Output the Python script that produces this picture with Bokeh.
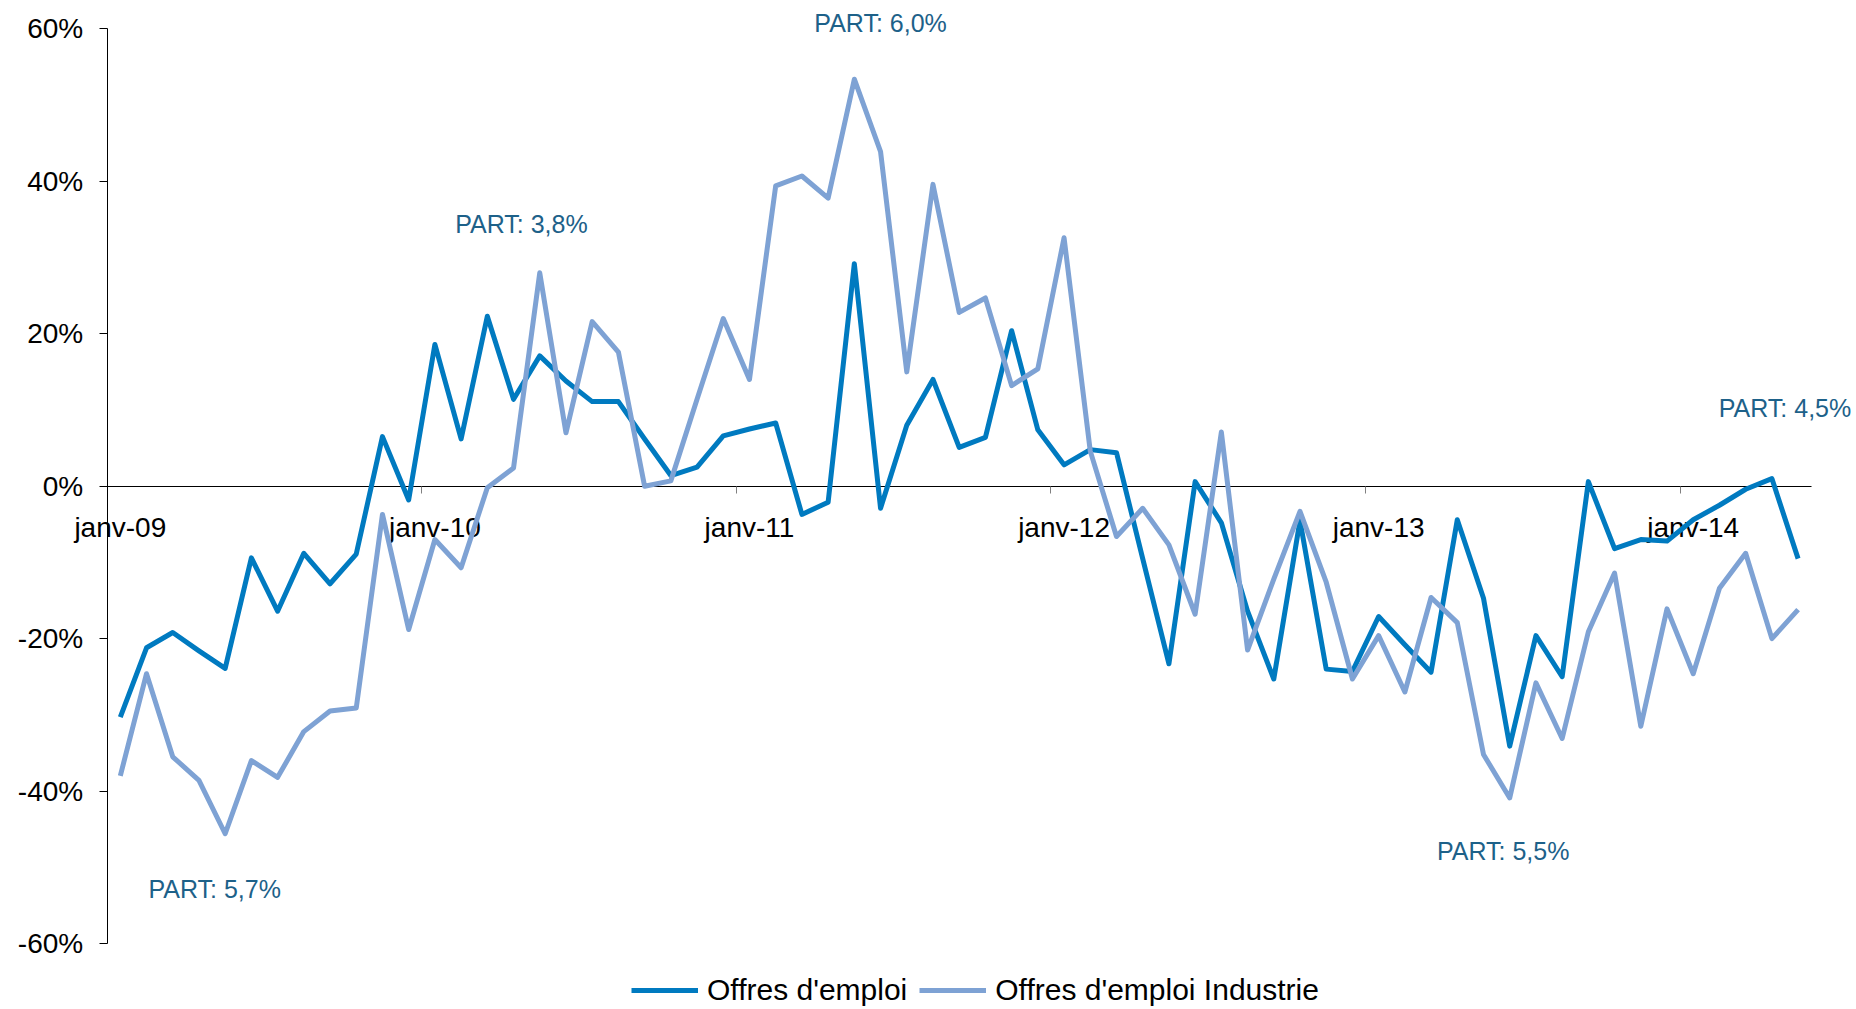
from bokeh.plotting import figure
from bokeh.models import (Range1d, LinearAxis, FixedTicker, PrintfTickFormatter,
                          ColumnDataSource, LabelSet, Legend, LegendItem)
from bokeh.core.properties import value
from bokeh.embed import file_html
from bokeh.resources import INLINE

# ---------------- data ----------------
MOIS = ["janv", "févr", "mars", "avr", "mai", "juin",
        "juil", "août", "sept", "oct", "nov", "déc"]
months = [f"{m}-{y:02d}" for y in range(9, 15) for m in MOIS][:65]

offres = [-30.3, -21.2, -19.2, -21.6, -23.9, -9.4, -16.4, -8.8, -12.8, -8.9, 6.5, -1.8,
          18.6, 6.2, 22.3, 11.4, 17.1, 13.8, 11.1, 11.1, 6.2, 1.4, 2.5, 6.6,
          7.5, 8.3, -3.7, -2.1, 29.2, -2.9, 8.0, 14.0, 5.1, 6.4, 20.4, 7.4,
          2.8, 4.8, 4.4, -9.5, -23.3, 0.6, -4.8, -16.4, -25.3, -4.5, -24.0, -24.3,
          -17.1, -20.8, -24.4, -4.4, -14.7, -34.1, -19.6, -25.0, 0.6, -8.2, -7.0, -7.2,
          -4.4, -2.5, -0.4, 1.0, -9.5]

industrie = [-38.0, -24.6, -35.5, -38.6, -45.6, -36.0, -38.2, -32.2, -29.5, -29.1, -3.7, -18.8,
             -7.0, -10.7, -0.2, 2.4, 28.0, 7.0, 21.6, 17.6, 0.0, 0.7, 11.4, 22.0,
             14.0, 39.4, 40.7, 37.8, 53.4, 43.9, 15.0, 39.6, 22.8, 24.7, 13.2, 15.4,
             32.6, 4.6, -6.6, -2.9, -7.7, -16.8, 7.1, -21.5, -12.2, -3.3, -12.6, -25.3,
             -19.6, -27.0, -14.6, -17.9, -35.2, -40.9, -25.8, -33.1, -19.1, -11.4, -31.5, -16.1,
             -24.6, -13.4, -8.8, -20.0, -16.2]

tick_labels = ["janv-09", "janv-10", "janv-11", "janv-12", "janv-13", "janv-14"]
y_ticks = [-60, -40, -20, 0, 20, 40, 60]

ann_text = ["PART: 5,7%", "PART: 3,8%", "PART: 6,0%", "PART: 5,5%", "PART: 4,5%"]
ann_x = [3.6, 15.3, 29.0, 52.75, 63.5]
ann_y = [-52.9, 34.4, 60.8, -47.9, 10.3]

series_names = ["Offres d'emploi", "Offres d'emploi Industrie"]

# ---------------- styles / layout ----------------
DARK = "#007AC0"
LIGHT = "#7EA2D4"
TEAL = "#1D6189"
FONT = "Liberation Sans"

W, H = 1854, 1008                 # figure size (frame covers the whole figure)
AX_LEFT, AX_RIGHT = 106.7, 1810.7  # pixel extent of the category axis
AX_TOP, AX_BOTTOM = 28.4, 943.0    # pixel extent of the value axis
Y_MIN, Y_MAX = -60, 60

n = len(months)
ux = (AX_RIGHT - AX_LEFT) / n
x0 = -0.5 - AX_LEFT / ux
uy = (AX_BOTTOM - AX_TOP) / (Y_MAX - Y_MIN)
y1 = Y_MAX + AX_TOP / uy

x = list(range(n))
src = ColumnDataSource(dict(x=x, month=months, offres=offres, industrie=industrie))

p = figure(width=W, height=H,
           x_range=Range1d(x0, x0 + W / ux), y_range=Range1d(y1 - H / uy, y1),
           x_axis_type=None, y_axis_type=None,
           output_backend="svg", toolbar_location=None,
           min_border=0, min_border_left=0, min_border_right=0,
           min_border_top=0, min_border_bottom=0)
p.outline_line_color = None
p.background_fill_color = "white"
p.border_fill_color = "white"

# value axis
yaxis = LinearAxis(fixed_location=-0.5, bounds=(Y_MIN, Y_MAX),
                   ticker=FixedTicker(ticks=y_ticks, minor_ticks=[]),
                   formatter=PrintfTickFormatter(format="%d%%"),
                   major_tick_out=8, major_tick_in=0, minor_tick_out=0, minor_tick_in=0,
                   axis_line_color="black", axis_line_width=1,
                   major_tick_line_color="black",
                   major_label_standoff=16,
                   major_label_text_font=FONT, major_label_text_font_size="28px",
                   major_label_text_color="black")
p.add_layout(yaxis, "left")

# category axis crossing at 0
label_pos = [months.index(l) for l in tick_labels]
xaxis = LinearAxis(fixed_location=0, bounds=(-0.5, n - 0.5),
                   ticker=FixedTicker(ticks=label_pos, minor_ticks=[]),
                   major_label_overrides={pos: lab for pos, lab in zip(label_pos, tick_labels)},
                   major_tick_out=0, major_tick_in=0, minor_tick_out=0, minor_tick_in=0,
                   axis_line_color="black", axis_line_width=1,
                   major_label_standoff=26,
                   major_label_text_font=FONT, major_label_text_font_size="28px",
                   major_label_text_color="black", level="underlay")
p.add_layout(xaxis, "below")

bound_pos = [pos - 0.5 for pos in label_pos if pos > 0]
xticks = LinearAxis(fixed_location=0, bounds=(-0.5, n - 0.5),
                    ticker=FixedTicker(ticks=bound_pos, minor_ticks=[]),
                    major_label_overrides={b: "" for b in bound_pos},
                    major_tick_out=7, major_tick_in=0, minor_tick_out=0, minor_tick_in=0,
                    major_tick_line_color="#808080", major_tick_line_width=1,
                    axis_line_color=None, level="underlay")
p.add_layout(xticks, "below")

r1 = p.line("x", "offres", source=src, line_color=DARK, line_width=5, line_join="round")
r2 = p.line("x", "industrie", source=src, line_color=LIGHT, line_width=5, line_join="round")

ann_src = ColumnDataSource(dict(x=ann_x, y=ann_y, text=ann_text))
p.add_layout(LabelSet(x="x", y="y", text="text", source=ann_src,
                      text_align="center", text_baseline="middle",
                      text_color=TEAL, text_font=value(FONT), text_font_size="25px"))

legend = Legend(items=[LegendItem(label=series_names[0], renderers=[r1]),
                       LegendItem(label=series_names[1], renderers=[r2])],
                orientation="horizontal", location=(631, 1),
                padding=0, spacing=12, label_standoff=9, margin=0,
                glyph_width=67, glyph_height=30, label_height=30,
                label_text_font=FONT, label_text_font_size="30px", label_text_color="black",
                border_line_color=None, background_fill_alpha=0)
p.add_layout(legend, "center")

open("out.html", "w").write(file_html(p, INLINE))
